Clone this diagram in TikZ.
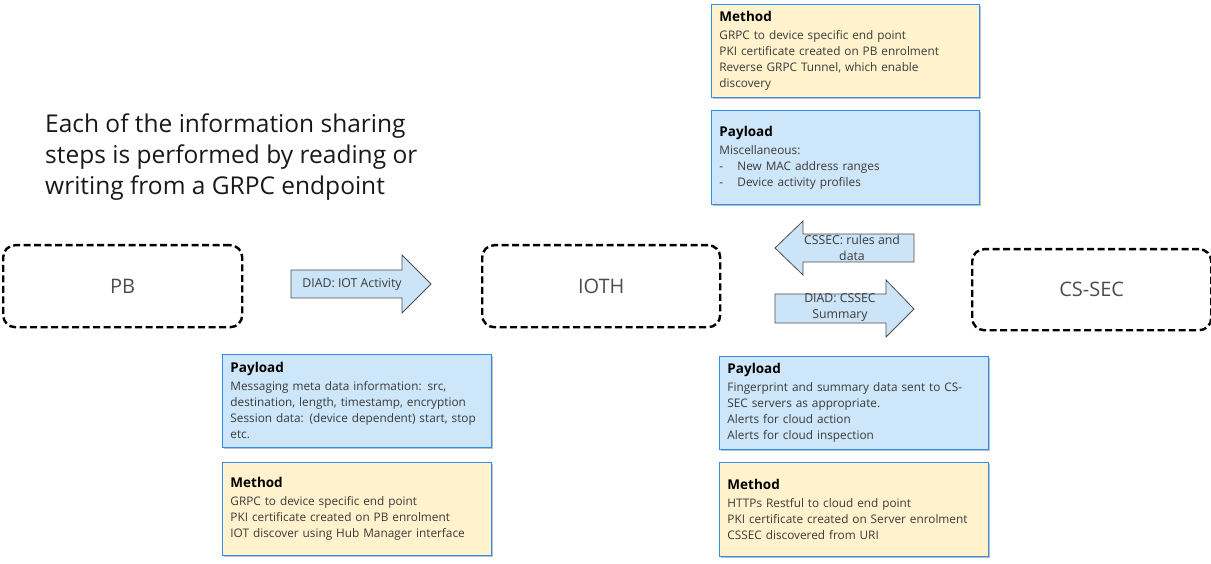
\documentclass[tikz,border=0pt]{standalone}
\usepackage{fontspec}
\setmainfont{Open Sans}
\usetikzlibrary{shadows}
\definecolor{methfill}{HTML}{FFF2CC}
\definecolor{payfill}{HTML}{CDE6F9}
\definecolor{boxline}{HTML}{2F8DED}
\definecolor{arrfill}{HTML}{CCE4F7}
\definecolor{arrline}{HTML}{4D4D4D}
\definecolor{bodytxt}{HTML}{3A3A3A}
\begin{document}
\begin{tikzpicture}[x=1pt,y=-1pt,
  infobox/.style={draw=boxline,line width=0.9pt,anchor=north west,inner xsep=8pt,inner ysep=4pt,
    align=left,text width=#1,font=\fontsize{11.8}{16}\selectfont,text=bodytxt,
    drop shadow={shadow xshift=1.5pt,shadow yshift=-1.5pt,fill=black,opacity=0.25}},
  methbox/.style={infobox=#1,fill=methfill},
  paybox/.style={infobox=#1,fill=payfill},
  entity/.style={draw=black,line width=2.4pt,dash pattern=on 7pt off 3.5pt,rounded corners=12pt,
    anchor=north west,font=\fontsize{20}{24}\selectfont,text=black!70},
  blockarrow/.style={draw=arrline,line width=0.8pt,fill=arrfill},
  arrtext/.style={font=\fontsize{12.3}{16}\selectfont,text=bodytxt,align=center,inner sep=0pt},
]
\useasboundingbox (0,0) rectangle (1211,564);
\newcommand{\hd}[1]{{\fontsize{13.5}{18}\selectfont\bfseries\color{black}#1\par}\vspace{2pt}}
\newcommand{\dashitem}{\makebox[18pt][l]{-}}

% intro text
\node[anchor=north west,align=left,inner sep=0pt,font=\fontsize{24.5}{31}\selectfont,text=black!90]
  (intro) at (45,114) {Each of the information sharing\\steps is performed by reading or\\writing from a GRPC endpoint};

% entities
\node[entity,minimum width=239pt,minimum height=82pt] (pb) at (2,244) {PB};
\node[entity,minimum width=238pt,minimum height=82pt] (ioth) at (481,244) {IOTH};
\node[entity,minimum width=239pt,minimum height=81pt] (cssec) at (971,248) {CS-SEC};

% top boxes
\node[methbox=252pt,minimum height=93pt] (mtop) at (711,4)
  {\hd{Method}GRPC to device specific end point\\PKI certificate created on PB enrolment\\Reverse GRPC Tunnel, which enable\\discovery};
\node[paybox=252pt,minimum height=94pt] (ptop) at (711,110)
  {\hd{Payload}Miscellaneous:\\\dashitem New MAC address ranges\\\dashitem Device activity profiles};

% bottom left boxes
\node[paybox=253pt,minimum height=93pt] (pbl) at (222,354)
  {\hd{Payload}Messaging meta data information: src,\\destination, length, timestamp, encryption\\Session data: (device dependent) start, stop\\etc.};
\node[methbox=253pt,minimum height=93pt] (mbl) at (222,462)
  {\hd{Method}GRPC to device specific end point\\PKI certificate created on PB enrolment\\IOT discover using Hub Manager interface};

% bottom right boxes
\node[paybox=253pt,minimum height=93pt] (pbr) at (719,356)
  {\hd{Payload}Fingerprint and summary data sent to CS-\\SEC servers as appropriate.\\Alerts for cloud action\\Alerts for cloud inspection};
\node[methbox=253pt,minimum height=94pt] (mbr) at (719,462)
  {\hd{Method}HTTPs Restful to cloud end point\\PKI certificate created on Server enrolment\\CSSEC discovered from URI};

% block arrows
\draw[blockarrow] (291,270) -- (402,270) -- (402,255) -- (431,284) -- (402,313) -- (402,298) -- (291,298) -- cycle;
\node[arrtext] (a1) at (352,284) {DIAD: IOT Activity};

\draw[blockarrow] (914,234) -- (803,234) -- (803,221) -- (775,248) -- (803,275) -- (803,262) -- (914,262) -- cycle;
\node[arrtext] (a2) at (852,248) {CSSEC: rules and\\data};

\draw[blockarrow] (775,294) -- (886,294) -- (886,280) -- (914,309) -- (886,337) -- (886,323) -- (775,323) -- cycle;
\node[arrtext] (a3) at (840,308) {DIAD: CSSEC\\Summary};
\end{tikzpicture}
\end{document}
